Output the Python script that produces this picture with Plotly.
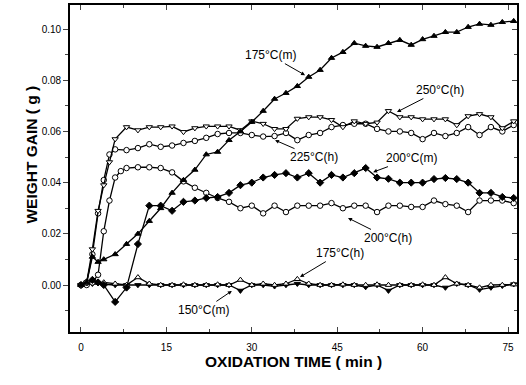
import plotly.graph_objects as go

# ---------------- data (minutes, grams) ----------------
t_fine7 = [0, 1, 2, 3, 4, 5, 6]
t_fine8 = [0, 1, 2, 3, 4, 5, 6, 7]
t_fine6 = [0, 1, 2, 3, 4, 6]
t_step = list(range(8, 77, 2))
t_all = list(range(0, 77, 2))

t_250h = t_fine7 + t_step
w_250h = [0, 0.001, 0.014, 0.029, 0.039, 0.048, 0.057,
          0.0617, 0.0605, 0.0617, 0.0617, 0.062, 0.0598, 0.0613, 0.062, 0.062, 0.062,
          0.0605, 0.0640, 0.063, 0.061, 0.061, 0.065, 0.0656, 0.0656, 0.0645, 0.0617,
          0.064, 0.063, 0.0635, 0.068, 0.0656, 0.0656, 0.0648, 0.0648, 0.0648, 0.0625,
          0.066, 0.0668, 0.0656, 0.0613, 0.064]

t_225h = t_fine7 + t_step
w_225h = [0, 0.001, 0.012, 0.028, 0.041, 0.051, 0.053,
          0.0527, 0.0535, 0.055, 0.054, 0.0545, 0.0555, 0.0563, 0.0575, 0.059, 0.0594,
          0.0594, 0.0586, 0.058, 0.0582, 0.0594, 0.0566, 0.0586, 0.0594, 0.0617, 0.0625,
          0.063, 0.063, 0.061, 0.060, 0.060, 0.0594, 0.057, 0.0594, 0.0582, 0.0594,
          0.0617, 0.0586, 0.0617, 0.060, 0.0625]

t_200h = t_fine8 + t_step
w_200h = [0, 0, 0.001, 0.004, 0.021, 0.033, 0.042, 0.0445,
          0.0457, 0.046, 0.046, 0.0457, 0.044, 0.0405, 0.038, 0.036, 0.034, 0.0325,
          0.030, 0.031, 0.028, 0.031, 0.0285, 0.031, 0.031, 0.031, 0.032, 0.030,
          0.031, 0.031, 0.0285, 0.031, 0.031, 0.0305, 0.0305, 0.033, 0.0316, 0.031,
          0.0285, 0.033, 0.033, 0.033, 0.032]

t_175m = t_fine6 + t_step
w_175m = [0, 0.001, 0.011, 0.009, 0.010, 0.012,
          0.016, 0.020, 0.025, 0.030, 0.036, 0.041, 0.045, 0.051, 0.052, 0.0566,
          0.060, 0.0637, 0.068, 0.0727, 0.075, 0.0777, 0.0813, 0.084, 0.0887, 0.091,
          0.0945, 0.0934, 0.093, 0.0945, 0.0957, 0.0938, 0.096, 0.0973, 0.0988, 0.0988,
          0.1008, 0.102, 0.1016, 0.1027, 0.1031]

t_200m = t_fine6 + t_step
w_200m = [0, 0.001, 0.002, 0.001, 0, -0.0066,
          -0.001, 0.016, 0.031, 0.031, 0.029, 0.0325, 0.033, 0.034, 0.0344, 0.036,
          0.039, 0.040, 0.042, 0.043, 0.0437, 0.042, 0.0437, 0.040, 0.043, 0.042,
          0.0437, 0.0457, 0.042, 0.0415, 0.040, 0.040, 0.040, 0.0414, 0.0418, 0.0414,
          0.040, 0.036, 0.036, 0.0344, 0.034]

t_175h = t_all
w_175h = [0, 0.001, 0.001, 0.0005, 0, 0.003, 0.0005, 0, 0, 0.0002, 0, 0, 0.0002, 0,
          0.002, 0, 0.0005, 0, 0.0005, 0.0023, 0.0005, 0, 0, 0.0002, 0, 0, 0.0002, 0,
          0, 0, 0.0002, 0, 0.003, 0.0005, 0, -0.001, 0, 0, 0.0002]

t_150m = t_all
w_150m = [0, 0.0005, 0.0003, 0, 0, 0, 0, 0, 0, 0, 0, 0, 0, 0,
          -0.0022, 0, 0, -0.0005, 0, 0.0005, 0, 0, 0, 0, 0, -0.0008, 0, -0.0022,
          0, 0, 0, 0, -0.001, 0.0005, 0, -0.0018, -0.001, -0.0003, 0.0003]

x_ticks = [0, 15, 30, 45, 60, 75]
y_ticks = [0.00, 0.02, 0.04, 0.06, 0.08, 0.10]
y_ticklabels = ["0.00", "0.02", "0.04", "0.06", "0.08", "0.10"]

series = [
    ("150°C(m)", t_150m, w_150m, "triangle-down", "black"),
    ("175°C(h)", t_175h, w_175h, "triangle-up", "white"),
    ("200°C(h)", t_200h, w_200h, "circle", "white"),
    ("200°C(m)", t_200m, w_200m, "diamond", "black"),
    ("225°C(h)", t_225h, w_225h, "circle", "white"),
    ("250°C(h)", t_250h, w_250h, "triangle-down", "white"),
    ("175°C(m)", t_175m, w_175m, "triangle-up", "black"),
]

fig = go.Figure()
for name, t, w, sym, fill in series:
    fig.add_trace(go.Scatter(
        x=t, y=w, name=name, mode="lines+markers",
        line=dict(color="black", width=1.3),
        marker=dict(symbol=sym, size=5.5, color=fill,
                    line=dict(color="black", width=1)),
        showlegend=False,
    ))

# helper (empty) trace so the mirrored top/right axes are drawn
fig.add_trace(go.Scatter(x=[], y=[], xaxis="x2", yaxis="y2", showlegend=False))

XR = [-1.93, 76.58]
YR = [-0.01836, 0.1094]
font = "Arial, Liberation Sans, sans-serif"

fig.update_layout(
    width=526, height=385,
    margin=dict(l=70, r=9, t=5, b=53),
    paper_bgcolor="white", plot_bgcolor="white",
    font=dict(family=font, color="black"),
    xaxis=dict(range=XR, tickvals=x_ticks, ticks="inside", ticklen=5, tickwidth=1.2,
               showgrid=False, zeroline=False, showline=True, linecolor="black", linewidth=1.8,
               tickfont=dict(size=10, family=font), ticklabelstandoff=5,
               minor=dict(ticks="inside", dtick=7.5, tick0=0, ticklen=3, tickwidth=1)),
    yaxis=dict(range=YR, tickvals=y_ticks, ticktext=y_ticklabels, ticks="outside",
               ticklen=5, tickwidth=1.2,
               showgrid=False, zeroline=False, showline=True, linecolor="black", linewidth=1.8,
               tickfont=dict(size=10, family=font),
               minor=dict(ticks="outside", dtick=0.01, tick0=0, ticklen=3, tickwidth=1)),
    xaxis2=dict(range=XR, overlaying="x", side="top", tickvals=x_ticks, ticks="inside",
                ticklen=5, showticklabels=False, showgrid=False, zeroline=False,
                showline=True, linecolor="black", linewidth=1.8,
                minor=dict(ticks="inside", dtick=7.5, tick0=0, ticklen=3)),
    yaxis2=dict(range=YR, overlaying="y", side="right", tickvals=y_ticks, ticks="inside",
                ticklen=5, showticklabels=False, showgrid=False, zeroline=False,
                showline=True, linecolor="black", linewidth=1.8,
                minor=dict(ticks="inside", dtick=0.01, tick0=0, ticklen=3)),
)

# axis titles
fig.add_annotation(text="<b>OXIDATION TIME ( min )</b>", xref="paper", yref="paper",
                   x=0.5, y=0, yshift=-40, showarrow=False,
                   font=dict(size=15.5, family=font))
fig.add_annotation(text="<b>WEIGHT GAIN ( g )</b>", xref="paper", yref="paper",
                   x=0, y=0.541, xshift=-49, textangle=-90, showarrow=False,
                   font=dict(size=15.5, family=font))

# curve labels with arrows (tip in data coords, text offset in px)
labels = [
    ("175°C(m)", 39.35, 0.0820, -35, -20),
    ("250°C(h)", 55.5, 0.0676, 43, -22),
    ("225°C(h)", 34.08, 0.0566, 39, 17),
    ("200°C(m)", 51.3, 0.0441, 38, -14),
    ("200°C(h)", 46.9, 0.0262, 40, 20),
    ("175°C(h)", 38.47, 0.0031, 40, -24),
    ("150°C(m)", 26.5, -0.0023, -28, 19),
]
for txt, x, y, ax, ay in labels:
    fig.add_annotation(text=txt, x=x, y=y, ax=ax, ay=ay, xref="x", yref="y",
                       showarrow=True, arrowhead=2, arrowsize=0.8, arrowwidth=1,
                       arrowcolor="black", font=dict(size=12, family=font),
                       bgcolor="rgba(255,255,255,0)")

fig.write_html("out.html")
